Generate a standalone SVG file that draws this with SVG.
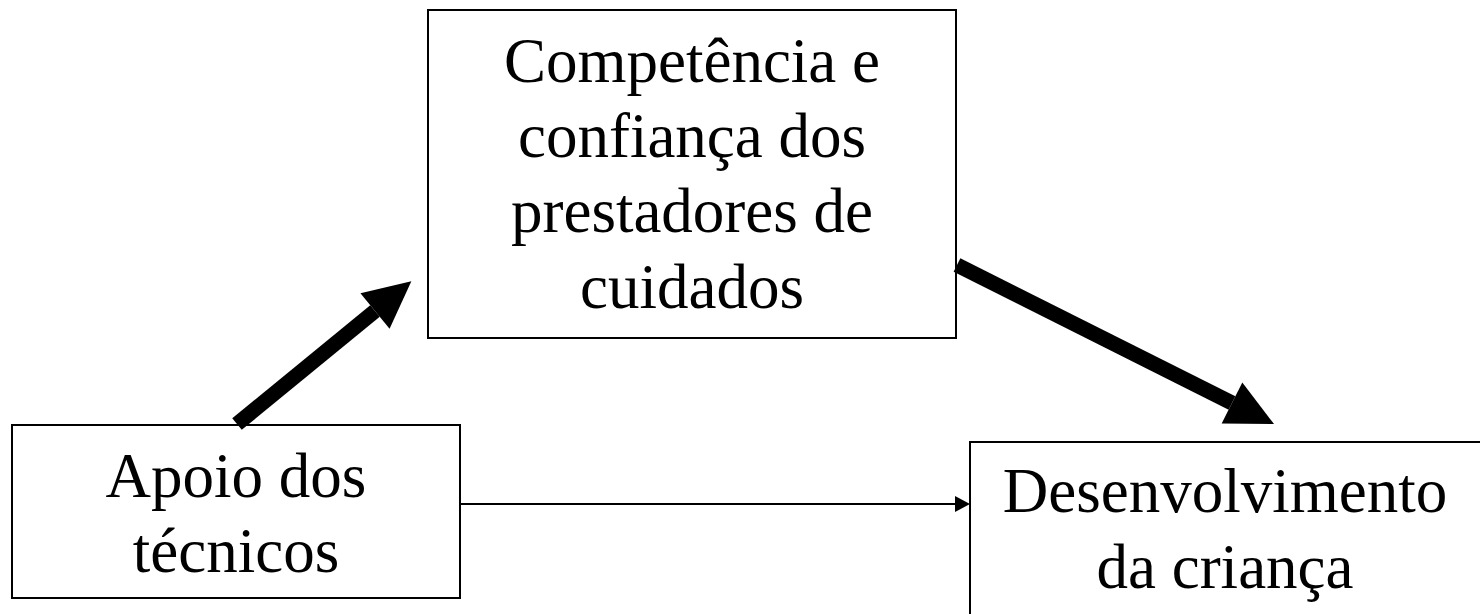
<svg xmlns="http://www.w3.org/2000/svg" width="1480" height="614" viewBox="0 0 1480 614">
  <style>
    .box { fill: #ffffff; stroke: #000000; stroke-width: 2; }
    .lbl { font-family: "Liberation Serif", "Times New Roman", serif; font-size: 63px; fill: #000000; text-anchor: middle; }
    .thick { stroke: #000000; stroke-width: 15; fill: none; }
    .thin { stroke: #000000; stroke-width: 2; fill: none; }
  </style>
  <defs>
    <marker id="bigHead" markerUnits="userSpaceOnUse" markerWidth="47" markerHeight="46" refX="0" refY="23" orient="auto" overflow="visible">
      <path d="M0,0 L47,23 L0,46 Z" fill="#000000"/>
    </marker>
    <marker id="smallHead" markerUnits="userSpaceOnUse" markerWidth="15" markerHeight="16" refX="0" refY="8" orient="auto" overflow="visible">
      <path d="M0,0 L15,8 L0,16 Z" fill="#000000"/>
    </marker>
  </defs>
  <rect width="1480" height="614" fill="#ffffff"/>

  <g id="node-competencia">
    <rect class="box" x="428" y="10" width="528" height="328"/>
    <text class="lbl" x="692" y="82">Competência e</text>
    <text class="lbl" x="692" y="157">confiança dos</text>
    <text class="lbl" x="692" y="232">prestadores de</text>
    <text class="lbl" x="692" y="308">cuidados</text>
  </g>

  <g id="node-apoio">
    <rect class="box" x="12" y="425" width="448" height="173"/>
    <text class="lbl" x="236" y="497">Apoio dos</text>
    <text class="lbl" x="236" y="572">técnicos</text>
  </g>

  <g id="node-desenvolvimento">
    <rect class="box" x="970" y="442" width="520" height="200"/>
    <text class="lbl" x="1225" y="512">Desenvolvimento</text>
    <text class="lbl" x="1225" y="588">da criança</text>
  </g>

  <g id="connectors">
    <line class="thick" x1="237" y1="424" x2="375" y2="311" marker-end="url(#bigHead)"/>
    <line class="thick" x1="957" y1="265" x2="1232" y2="403" marker-end="url(#bigHead)"/>
    <line class="thin" x1="460" y1="504" x2="955" y2="504" marker-end="url(#smallHead)"/>
  </g>
</svg>
